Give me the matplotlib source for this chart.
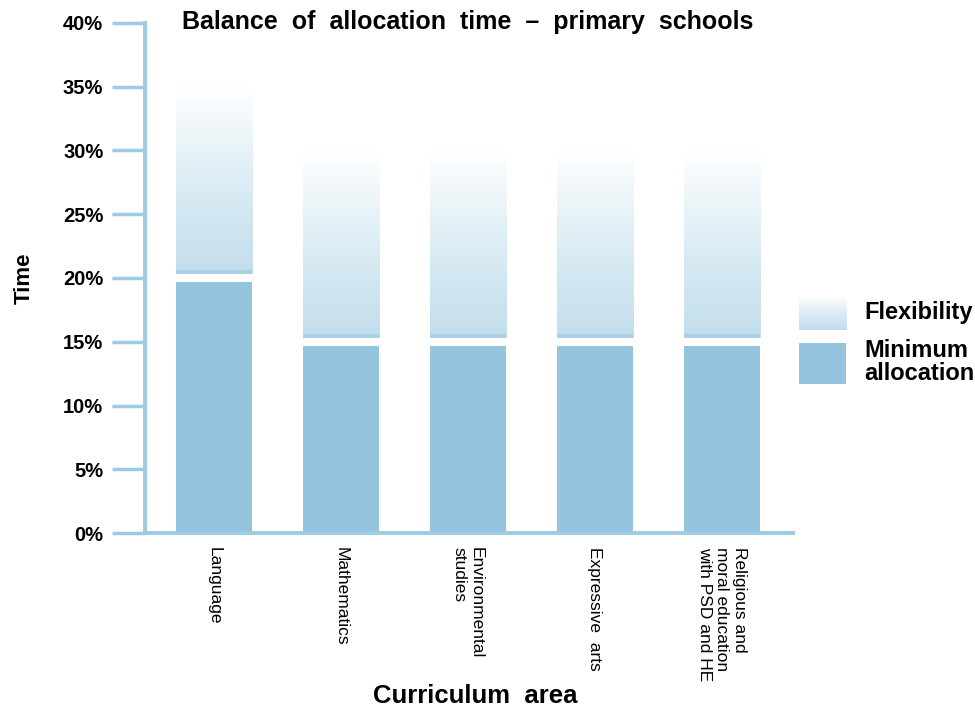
import numpy as np
import matplotlib.pyplot as plt
from matplotlib.colors import LinearSegmentedColormap

# chart data
areas = ['Language', 'Mathematics', 'Environmental\nstudies', 'Expressive  arts',
         'Religious and\nmoral education\nwith PSD and HE']
minimum = [20, 15, 15, 15, 15]
flexibility = [15, 15, 15, 15, 15]
yticks = [0, 5, 10, 15, 20, 25, 30, 35, 40]

blue = '#95c5de'
line_blue = '#9dcbe3'
grad = LinearSegmentedColormap.from_list('flex', ['#c2deeb', '#dcedf5', '#ffffff'])

bold = ['Liberation Sans', 'DejaVu Sans']

fig = plt.figure(figsize=(9.75, 7.09), dpi=100)
ax = fig.add_axes([0.1487, 0.2482, 0.6646, 0.7194])

x = np.arange(len(areas))
w = 0.6
gap = 0.3
ax.bar(x, np.array(minimum) - gap, width=w, color=blue, edgecolor='none', zorder=2)
ramp = np.linspace(0, 1, 256).reshape(-1, 1)
for xi, m, f in zip(x, minimum, flexibility):
    ax.imshow(ramp, cmap=grad, origin='lower', aspect='auto',
              extent=[xi - w / 2, xi + w / 2, m + gap, m + f], zorder=2)
    # darker strip at the base of the flexibility band
    ax.bar(xi, 0.3, bottom=m + gap, width=w, color='#a9d1e5', edgecolor='none', zorder=3)

ax.set_xlim(-0.543, 4.56)
ax.set_ylim(0, 40)
ax.set_yticks(yticks)
ax.set_yticklabels([f'{v}%' for v in yticks], fontsize=14.5, fontweight='bold', family=bold)
ax.set_xticks(x)
ax.set_xticklabels(areas, rotation=-90, ha='center', va='top', fontsize=12.5,
                   family=bold, linespacing=1.2, multialignment='left')
ax.tick_params(axis='y', length=24, width=2.5, color=line_blue, pad=6)
ax.tick_params(axis='x', length=0, pad=10)
for s in ['top', 'right']:
    ax.spines[s].set_visible(False)
for s in ['left', 'bottom']:
    ax.spines[s].set_color(line_blue)
    ax.spines[s].set_linewidth(2.8)

ax.set_ylabel('Time', fontsize=16, fontweight='bold', family=bold, labelpad=20)
fig.text(0.487, 1 - 696 / 709, 'Curriculum  area', ha='center', va='center', fontsize=18.5,
         fontweight='bold', family=bold)
fig.text(0.48, 1 - 22 / 709, 'Balance  of  allocation  time  –  primary  schools', ha='center',
         va='center', fontsize=18, fontweight='bold', family=bold)

# legend
lax1 = fig.add_axes([799 / 975, 1 - 330 / 709, 47 / 975, 34 / 709])
lax1.imshow(ramp, cmap=grad, origin='lower', aspect='auto', extent=[0, 1, 0, 1])
lax1.axis('off')
lax2 = fig.add_axes([799 / 975, 1 - 384 / 709, 47 / 975, 41 / 709])
lax2.add_patch(plt.Rectangle((0, 0), 1, 1, color=blue))
lax2.axis('off')
fig.text(864 / 975, 1 - 313 / 709, 'Flexibility', ha='left', va='center', fontsize=17,
         fontweight='bold', family=bold)
fig.text(864 / 975, 1 - 362 / 709, 'Minimum\nallocation', ha='left', va='center', fontsize=17,
         fontweight='bold', family=bold, linespacing=1.0)

fig.savefig('out.png', dpi=100)
